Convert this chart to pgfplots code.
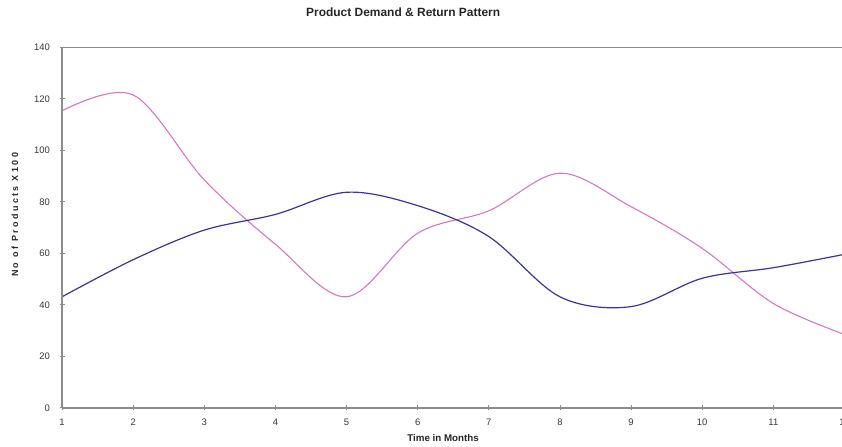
\documentclass[border=0pt]{standalone}
\usepackage{fontspec}
\setmainfont{Liberation Sans}
\usepackage{pgfplots}
\pgfplotsset{compat=1.18}
\definecolor{pinkline}{RGB}{214,120,190}
\definecolor{blueline}{RGB}{58,52,160}
\definecolor{axgray}{RGB}{140,140,140}
\definecolor{txtgray}{RGB}{55,55,55}
\begin{document}
\begin{tikzpicture}[x=1bp,y=1bp]
\begin{axis}[
  at={(62bp,39.2bp)}, anchor=south west,
  scale only axis, width=782.5bp, height=360.5bp,
  xmin=1, xmax=12, ymin=0, ymax=140,
  xtick={1,2,...,12}, ytick={0,20,...,140},
  xtick pos=left, ytick pos=left,
  tick align=center, major tick length=5bp,
  tick style={axgray, line width=0.8bp},
  axis line style={axgray, line width=1bp},
  /pgf/number format/assume math mode=true,
  tick label style={font=\fontsize{9.5}{10}\selectfont, text=txtgray},
  yticklabel style={xshift=-6bp},
  xticklabel style={yshift=-5bp},
  title={Product Demand \& Return Pattern},
  title style={at={(axis description cs:0.436,1.070)}, anchor=base, font=\bfseries\fontsize{12}{14}\selectfont, text=black!85},
  xlabel={Time in Months},
  xlabel style={at={(axis description cs:0.487,-0.094)}, anchor=base, font=\bfseries\fontsize{9.8}{11}\selectfont, text=black!85},
  ylabel={\addfontfeature{LetterSpace=27}No of Products X100},
  ylabel style={at={(axis description cs:-0.0601,0.535)}, anchor=center, rotate=0, font=\bfseries\fontsize{9}{11}\selectfont, text=black!85},
  clip=false,
]
\addplot[pinkline, line width=1.1bp, smooth, tension=0.55] coordinates {
 (1,115.3) (2,121.5) (3,88.5) (4,63.5) (5,43.1) (6,67.8) (7,76.5) (8,91.1) (9,78.1) (10,61.9) (11,40.5) (12,28.5)
};
\addplot[blueline, line width=1.2bp, smooth, tension=0.55] coordinates {
 (1,43.1) (2,57.5) (3,69.0) (4,75.1) (5,83.7) (6,78.5) (7,66.5) (8,43.1) (9,39.3) (10,50.3) (11,54.4) (12,59.6)
};
\draw[axgray, line width=1.8bp] (axis cs:1,0) -- (axis cs:1,140);
\draw[axgray, line width=1.5bp] (axis cs:1,0) -- (axis cs:12,0);
\end{axis}
\pgfresetboundingbox
\path (0,0) rectangle (842,447);
\end{tikzpicture}
\end{document}
